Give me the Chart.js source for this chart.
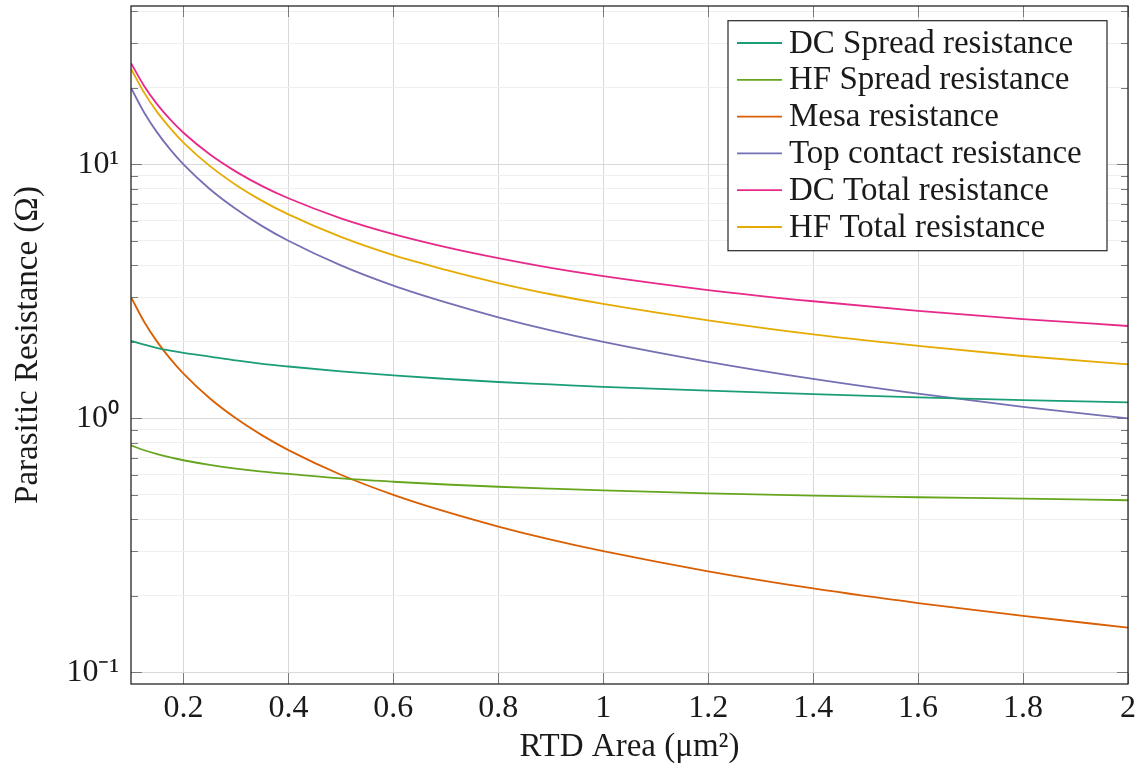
<!DOCTYPE html>
<html><head><meta charset="utf-8">
<script src="https://cdn.jsdelivr.net/npm/chart.js@4.4.0/dist/chart.umd.min.js"></script>
<style>html,body{margin:0;padding:0;background:#fff;}</style>
</head><body>
<canvas id="c" width="1139" height="769" style="display:block;width:1139px;height:769px"></canvas>
<script>
// ---- data ----
const areas        = [0.1, 0.125, 0.15, 0.175, 0.2, 0.25, 0.3, 0.35, 0.4, 0.5, 0.6, 0.7, 0.8, 0.9, 1.0, 1.2, 1.4, 1.6, 1.8, 2.0];
const dcSpread     = [2.02, 1.95, 1.89, 1.846, 1.81, 1.75, 1.69, 1.64, 1.60, 1.53, 1.475, 1.43, 1.39, 1.36, 1.33, 1.285, 1.245, 1.21, 1.18, 1.155];
const hfSpread     = [0.783, 0.749, 0.723, 0.702, 0.684, 0.656, 0.634, 0.617, 0.604, 0.58, 0.563, 0.549, 0.538, 0.529, 0.521, 0.507, 0.496, 0.489, 0.483, 0.476];
const mesa         = [3.0, 2.4, 2.0, 1.714, 1.5, 1.2, 1.0, 0.857, 0.75, 0.6, 0.5, 0.429, 0.375, 0.333, 0.3, 0.25, 0.214, 0.1875, 0.167, 0.15];
const topContact   = [20, 16, 13.33, 11.43, 10, 8, 6.67, 5.71, 5, 4, 3.33, 2.86, 2.5, 2.22, 2.0, 1.67, 1.43, 1.25, 1.11, 1.0];
const dcTotal      = [25.02, 20.35, 17.22, 14.99, 13.31, 10.95, 9.36, 8.21, 7.35, 6.13, 5.31, 4.72, 4.27, 3.91, 3.63, 3.20, 2.89, 2.65, 2.46, 2.31];
const hfTotal      = [23.78, 19.15, 16.05, 13.85, 12.18, 9.86, 8.30, 7.18, 6.35, 5.18, 4.39, 3.84, 3.41, 3.08, 2.82, 2.43, 2.14, 1.93, 1.76, 1.63];
const seriesNames  = ['DC Spread resistance', 'HF Spread resistance', 'Mesa resistance', 'Top contact resistance', 'DC Total resistance', 'HF Total resistance'];
const xTickValues  = [0.2, 0.4, 0.6, 0.8, 1.0, 1.2, 1.4, 1.6, 1.8, 2.0];
const xTickLabels  = ['0.2', '0.4', '0.6', '0.8', '1', '1.2', '1.4', '1.6', '1.8', '2'];
const yTickValues  = [0.1, 0.2, 0.3, 0.4, 0.5, 0.6, 0.7, 0.8, 0.9, 1, 2, 3, 4, 5, 6, 7, 8, 9, 10, 20, 30, 40];
const yMajorValues = [0.1, 1, 10];
const yMajorLabels = ['10⁻¹', '10⁰', '10¹'];

const colors = ['#1b9e77', '#66a61e', '#d95f02', '#7570b3', '#e7298a', '#e6ab02'];
const values = [dcSpread, hfSpread, mesa, topContact, dcTotal, hfTotal];
const FONT = '"Liberation Serif", "Times New Roman", serif';

const isMajor = v => yMajorValues.some(m => Math.abs(m - v) < 1e-9);
const zeroPad = s => { s.paddingTop = 0; s.paddingBottom = 0; s.paddingLeft = 0; s.paddingRight = 0; };

const frameAndTicks = {
  id: 'frameAndTicks',
  beforeDatasetsDraw(chart) {
    const {ctx, chartArea: a, scales: {x, y}} = chart;
    ctx.save();
    ctx.strokeStyle = '#7a7a7a';
    ctx.lineWidth = 1;
    const seg = (x1, y1, x2, y2) => { ctx.beginPath(); ctx.moveTo(x1, y1); ctx.lineTo(x2, y2); ctx.stroke(); };
    y.ticks.forEach(t => {
      const py = Math.round(y.getPixelForValue(t.value)) + 0.5;
      const len = isMajor(t.value) ? 11 : 7;
      seg(a.left, py, a.left + len, py);
      seg(a.right, py, a.right - len, py);
    });
    x.ticks.forEach(t => {
      const px = Math.round(x.getPixelForValue(t.value)) + 0.5;
      seg(px, a.bottom, px, a.bottom - 11);
      seg(px, a.top, px, a.top + 11);
    });
    ctx.restore();
  },
  afterDraw(chart) {
    const {ctx, chartArea: a} = chart;
    ctx.save();
    ctx.strokeStyle = '#262626';
    ctx.lineWidth = 1.3;
    ctx.strokeRect(a.left, a.top, a.right - a.left, a.bottom - a.top);
    // legend
    ctx.font = '33px ' + FONT;
    const ds = chart.data.datasets;
    const maxW = Math.max(...ds.map(d => ctx.measureText(d.label).width));
    const padL = 9, lineLen = 45, gap = 7, rowH = 36.8, padT = 22.3;
    const w = Math.max(379, padL + lineLen + gap + maxW + 14);
    const h = 230;
    const bx = a.right - 21 - w, by = a.top + 14.7;
    ctx.fillStyle = '#fff';
    ctx.fillRect(bx, by, w, h);
    ctx.lineWidth = 1.2;
    ctx.strokeRect(bx, by, w, h);
    ds.forEach((d, i) => {
      const cy = by + padT + i * rowH;
      ctx.strokeStyle = d.borderColor;
      ctx.lineWidth = 1.8;
      ctx.beginPath(); ctx.moveTo(bx + padL, cy); ctx.lineTo(bx + padL + lineLen, cy); ctx.stroke();
      ctx.fillStyle = '#1a1a1a';
      ctx.textBaseline = 'middle';
      ctx.textAlign = 'left';
      ctx.fillText(d.label, bx + padL + lineLen + gap, cy + 1);
    });
    ctx.restore();
  }
};

new Chart(document.getElementById('c'), {
  type: 'line',
  data: {
    labels: areas,
    datasets: seriesNames.map((name, i) => ({
      label: name,
      data: areas.map((a, j) => ({x: a, y: values[i][j]})),
      borderColor: colors[i],
      backgroundColor: colors[i],
      borderWidth: 1.8,
      pointRadius: 0,
      fill: false,
      cubicInterpolationMode: 'monotone'
    }))
  },
  options: {
    responsive: false,
    animation: false,
    devicePixelRatio: 1,
    layout: {padding: {top: 6, right: 11, left: 0, bottom: 0}},
    plugins: {legend: {display: false}, tooltip: {enabled: false}},
    scales: {
      x: {
        type: 'linear',
        min: 0.1, max: 2,
        afterBuildTicks: s => { s.ticks = xTickValues.map(v => ({value: v})); },
        afterFit: s => { s.height = 85; zeroPad(s); },
        border: {display: false},
        grid: {color: '#d9d9d9', lineWidth: 1, drawTicks: false},
        ticks: {
          padding: 5,
          color: '#1a1a1a',
          font: {family: FONT, size: 32},
          maxRotation: 0,
          autoSkip: false,
          callback: v => { const k = xTickValues.findIndex(t => Math.abs(t - v) < 1e-9); return k >= 0 ? xTickLabels[k] : ''; }
        },
        title: {display: true, text: 'RTD Area (μm²)', color: '#1a1a1a', font: {family: FONT, size: 33}, padding: {top: 0, bottom: 2}}
      },
      y: {
        type: 'logarithmic',
        min: 0.09, max: 42,
        afterBuildTicks: s => { s.ticks = yTickValues.map(v => ({value: v, major: isMajor(v)})); },
        afterFit: s => { s.width = 131; zeroPad(s); },
        border: {display: false},
        grid: {
          drawTicks: false,
          lineWidth: 1,
          color: c => (c.tick && isMajor(c.tick.value)) ? '#d9d9d9' : '#efefef'
        },
        ticks: {
          padding: 12,
          color: '#1a1a1a',
          font: {family: FONT, size: 32},
          autoSkip: false,
          callback: v => { const k = yMajorValues.findIndex(m => Math.abs(m - v) < 1e-9); return k >= 0 ? yMajorLabels[k] : ''; }
        },
        title: {display: true, text: 'Parasitic Resistance (Ω)', color: '#1a1a1a', font: {family: FONT, size: 33}, padding: {top: 9, bottom: 0}}
      }
    }
  },
  plugins: [frameAndTicks]
});
</script>
</body></html>
